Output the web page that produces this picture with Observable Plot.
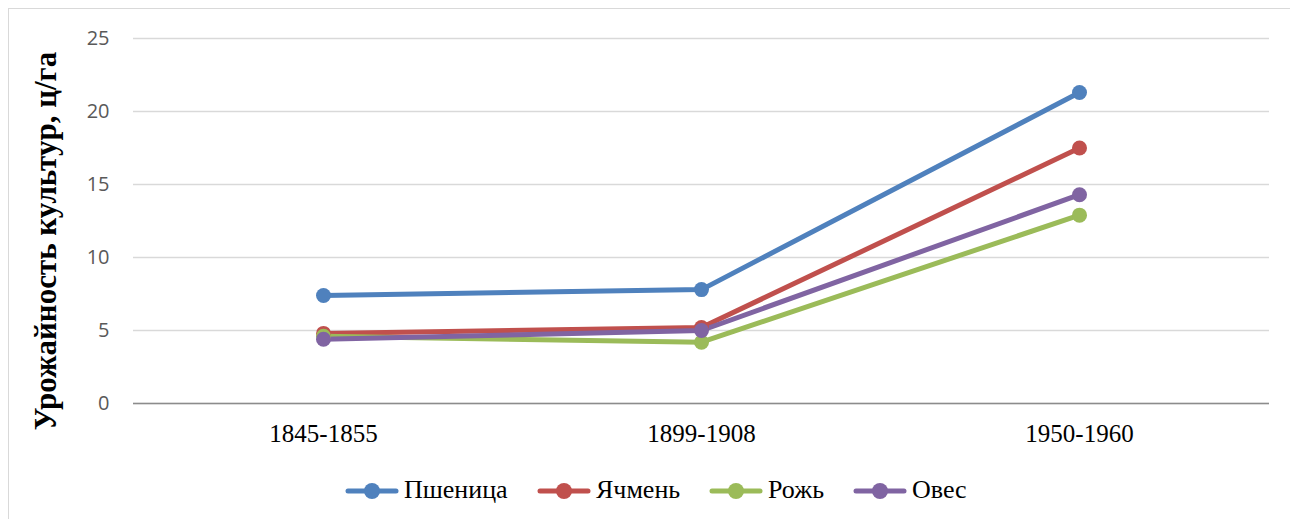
<!DOCTYPE html>
<html><head><meta charset="utf-8">
<script src="https://cdn.jsdelivr.net/npm/d3@7"></script>
<script src="https://cdn.jsdelivr.net/npm/@observablehq/plot@0.6"></script>
<style>
html,body{margin:0;padding:0;background:#fff}
body{width:1290px;height:519px;overflow:hidden;position:relative}
#frame{position:absolute;left:8px;top:8px;width:1310px;height:540px;border:1px solid #d9d9d9;box-sizing:border-box}
#chart{position:absolute;left:0;top:0}
#legend{position:absolute;top:475px;left:0;width:1290px;height:32px;font-family:"Liberation Serif","Times New Roman",serif;font-size:26px;color:#000;white-space:nowrap}
#legend svg{position:absolute;top:7px;display:block}
#legend span{position:absolute;top:0;line-height:30px}
</style></head>
<body>
<div id="frame"></div>
<div id="chart"></div>
<div id="legend"></div>
<script>
const periods = ["1845-1855", "1899-1908", "1950-1960"];
const crops = ["Пшеница", "Ячмень", "Рожь", "Овес"];
const wheat = [7.4, 7.8, 21.3];
const barley = [4.8, 5.2, 17.5];
const rye = [4.6, 4.2, 12.9];
const oats = [4.4, 5.0, 14.3];
const colors = ["#4F81BD", "#C0504D", "#9BBB59", "#8064A2"];
const yTicks = [0, 5, 10, 15, 20, 25];
const yLabel = "Урожайность культур, ц/га";

const series = [wheat, barley, rye, oats];
const data = [];
crops.forEach((c, i) => periods.forEach((p, j) => data.push({crop: c, period: p, value: series[i][j]})));

const chart = Plot.plot({
  width: 1290,
  height: 460,
  marginTop: 38,
  marginBottom: 57,
  marginLeft: 133,
  marginRight: 21,
  style: {background: "transparent"},
  x: {type: "point", domain: periods, padding: 0.5, label: null},
  y: {domain: [0, 25], label: null},
  color: {domain: crops, range: colors},
  marks: [
    Plot.gridY(yTicks, {stroke: "#d9d9d9", strokeOpacity: 1, strokeWidth: 1.3}),
    Plot.ruleY([0], {stroke: "#8c8c8c", strokeWidth: 1.3}),
    Plot.axisY(yTicks, {tickSize: 0, tickPadding: 24, fontSize: 20, fill: "#595959", fontFamily: "'Open Sans', 'Liberation Sans', sans-serif", label: null}),
    Plot.axisX({tickSize: 0, tickPadding: 21, fontSize: 25, fill: "#000", fontFamily: "'Liberation Serif', 'Times New Roman', serif", label: null}),
    Plot.line(data, {x: "period", y: "value", z: "crop", stroke: "crop", strokeWidth: 5, strokeLinecap: "round", strokeLinejoin: "round"}),
    Plot.dot(data, {x: "period", y: "value", fill: "crop", r: 7.5}),
    Plot.text([yLabel], {frameAnchor: "left", rotate: -90, dx: -87, dy: 20, fontSize: 31, fontWeight: "bold", fontFamily: "'Liberation Serif', 'Times New Roman', serif", fill: "#000", textAnchor: "middle", lineAnchor: "middle"})
  ]
});
document.getElementById("chart").appendChild(chart);

const legend = document.getElementById("legend");
let x = 345;
crops.forEach((c, i) => {
  const sw = document.createElementNS("http://www.w3.org/2000/svg", "svg");
  sw.setAttribute("width", 54); sw.setAttribute("height", 18);
  sw.style.left = x + "px";
  sw.innerHTML = `<line x1="3" y1="9" x2="51" y2="9" stroke="${colors[i]}" stroke-width="5" stroke-linecap="round"/><circle cx="27" cy="9" r="8" fill="${colors[i]}"/>`;
  legend.appendChild(sw);
  const span = document.createElement("span");
  span.textContent = c;
  span.style.left = (x + 59) + "px";
  legend.appendChild(span);
  const w = span.offsetWidth;
  x = x + 59 + w + 29;
});
</script>
</body></html>
